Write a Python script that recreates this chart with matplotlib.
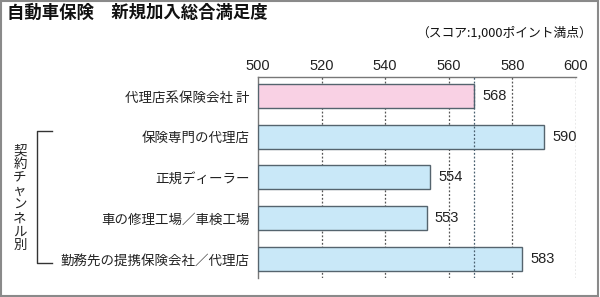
import matplotlib
matplotlib.use("Agg")
import matplotlib.pyplot as plt
from matplotlib.patches import Rectangle
from matplotlib.lines import Line2D

plt.rcParams['font.family'] = ['Noto Sans CJK JP', 'DejaVu Sans']

categories = ["代理店系保険会社 計", "保険専門の代理店", "正規ディーラー",
              "車の修理工場／車検工場", "勤務先の提携保険会社／代理店"]
values = [568, 590, 554, 553, 583]
bar_colors = ["#F9D1E4", "#C9E8F8", "#C9E8F8", "#C9E8F8", "#C9E8F8"]
x_ticks = [500, 520, 540, 560, 580, 600]
average = 568
title = "自動車保険　新規加入総合満足度"
note = "（スコア:1,000ポイント満点）"
group_label = "契約チャンネル別"

num_font = ['Liberation Sans', 'DejaVu Sans']

fig = plt.figure(figsize=(6.0, 2.97), dpi=100)
ax = fig.add_axes([0.43, 0.064, 0.53, 0.677])

pos = list(range(len(categories)))
ax.barh(pos, [v - 500 for v in values], left=500, height=0.59,
        color=bar_colors, edgecolor="#55646e", linewidth=1.0, zorder=3)
ax.set_xlim(500, 600)
ax.set_ylim(len(categories) - 0.53, -0.47)

ax.set_xticks(x_ticks)
ax.xaxis.tick_top()
ax.tick_params(axis='x', length=0, pad=3, labelsize=10.5, colors="#222222")
ax.set_yticks(pos)
ax.set_yticklabels(categories, fontsize=9.7)
ax.tick_params(axis='y', length=0, pad=6, colors="#222222")
for lab in ax.get_xticklabels():
    lab.set_family(num_font)

for x in x_ticks[1:]:
    ax.axvline(x, color="#555555", linestyle=(0, (1.5, 1.5)), linewidth=0.9, zorder=1)
ax.axvline(average, color="#4a6070", linestyle=(0, (1.5, 1.5)), linewidth=0.9, zorder=4)

for s in ["right", "bottom"]:
    ax.spines[s].set_visible(False)
ax.spines["left"].set_color("#777777")
ax.spines["top"].set_color("#777777")
ax.spines["top"].set_linewidth(1.0)
ax.spines["left"].set_linewidth(1.0)

for p, v in zip(pos, values):
    ax.annotate(str(v), xy=(v, p), xytext=(6, 0), textcoords="offset points",
                va="center", ha="left", fontsize=10.5, color="#222222",
                family=num_font)

fig.text(7 / 600, 1 - 13 / 297, title, fontsize=12.5, fontweight="bold",
         va="center", ha="left", color="#111111")
fig.text(592 / 600, 1 - 33 / 297, note, fontsize=9.2, va="center", ha="right",
         color="#111111")

fig.text(20 / 600, 1 - 198 / 297, "\n".join(group_label), fontsize=9.7,
         va="center", ha="center", linespacing=0.96, color="#222222")

def px(x, y):
    return (x / 600, 1 - y / 297)

bracket = [px(52, 131.5), px(37, 131.5), px(37, 263), px(52, 263)]
fig.add_artist(Line2D([p[0] for p in bracket], [p[1] for p in bracket],
                      color="#333333", linewidth=1.0))

fig.add_artist(Rectangle((0.002, 0.003), 0.994, 0.994, transform=fig.transFigure,
                         fill=False, edgecolor="#8a8a8a", linewidth=1.5))

fig.savefig("out.png", dpi=100)
